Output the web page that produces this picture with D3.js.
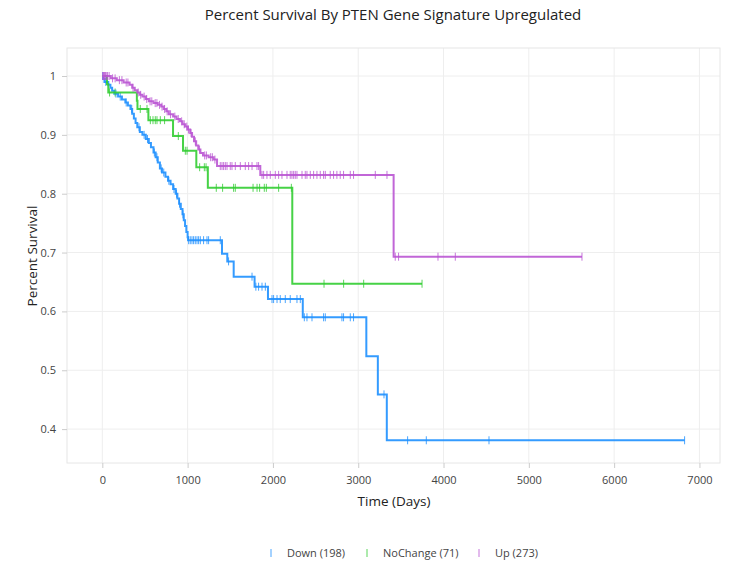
<!DOCTYPE html>
<html><head><meta charset="utf-8">
<script src="https://cdnjs.cloudflare.com/ajax/libs/d3/7.8.5/d3.min.js"></script>
<style>body{margin:0;background:#fff;}svg{display:block;font-family:"Open Sans",sans-serif;}</style>
</head><body><div id="chart"></div>
<script>
const chartTitle = "Percent Survival By PTEN Gene Signature Upregulated";
const xTitle = "Time (Days)";
const yTitle = "Percent Survival";
const xTicks = [0, 1000, 2000, 3000, 4000, 5000, 6000, 7000];
const yTicks = [0.4, 0.5, 0.6, 0.7, 0.8, 0.9, 1];
const groupNames = ["Down (198)", "NoChange (71)", "Up (273)"];
const groupColors = ["#1e90ff", "#32cd32", "#ba55d3"];

// Down
const downTimes = [0,12,25,70,95,115,140,185,230,270,300,330,350,370,390,410,440,470,510,545,570,600,625,650,675,700,740,770,800,830,860,880,900,920,940,955,970,985,1000,1005,1403,1465,1540,1785,1942,2350,3095,3230,3335];
const downSurv  = [1,0.995,0.99,0.985,0.98,0.975,0.97,0.965,0.96,0.955,0.95,0.944,0.936,0.928,0.92,0.913,0.905,0.9,0.893,0.886,0.879,0.87,0.862,0.853,0.843,0.836,0.829,0.822,0.816,0.808,0.8,0.792,0.783,0.774,0.765,0.755,0.745,0.735,0.726,0.721,0.698,0.685,0.659,0.642,0.621,0.59,0.524,0.459,0.381];
const downEnd = 6826;
const downCensor = [5,40,160,210,280,345,430,490,530,610,640,690,720,780,840,870,905,945,1012,1031,1051,1070,1090,1110,1129,1149,1187,1227,1246,1383,1480,1755,1800,1832,1872,1911,1989,2008,2048,2086,2145,2203,2282,2321,2368,2399,2458,2594,2614,2809,2828,2907,2945,3302,3579,3798,4533,6826];

// NoChange
const noChangeTimes = [0,55,70,405,412,540,829,946,1102,1237,2227];
const noChangeSurv  = [1,0.986,0.972,0.958,0.944,0.925,0.898,0.873,0.845,0.81,0.647];
const noChangeEnd = 3748;
const noChangeCensor = [85,150,445,524,563,594,621,641,680,730,891,973,993,1141,1196,1216,1336,1410,1539,1559,1767,1814,1844,1899,1923,2067,2216,2599,2829,3064,3748];

// Up
const upTimes = [0,100,170,250,320,350,380,410,440,470,510,545,600,650,690,720,750,780,830,870,910,940,970,1000,1030,1052,1075,1100,1125,1150,1180,1246,1305,1345,1852,3415];
const upSurv  = [1,0.996,0.993,0.989,0.985,0.98,0.976,0.972,0.968,0.965,0.961,0.957,0.954,0.951,0.948,0.944,0.94,0.935,0.931,0.927,0.923,0.918,0.914,0.909,0.903,0.897,0.889,0.882,0.875,0.869,0.865,0.862,0.858,0.847,0.832,0.693];
const upEnd = 5623;
const upCensor = [5,12,20,28,35,45,60,80,120,150,200,230,280,300,360,420,450,490,520,560,580,620,640,670,700,730,760,800,850,890,930,960,990,1010,1040,1090,1140,1200,1220,1270,1290,1320,1383,1403,1422,1442,1462,1500,1520,1559,1618,1676,1715,1755,1813,1832,1872,1891,1930,1969,2028,2067,2106,2165,2203,2223,2243,2262,2282,2341,2379,2399,2438,2477,2516,2555,2594,2614,2672,2711,2750,2789,2828,2907,2945,3200,3337,3434,3473,3935,4138,5623];

const groups = [
  {times: downTimes, surv: downSurv, end: downEnd, censor: downCensor},
  {times: noChangeTimes, surv: noChangeSurv, end: noChangeEnd, censor: noChangeCensor},
  {times: upTimes, surv: upSurv, end: upEnd, censor: upCensor}
];

const W = 734, H = 563;
const m = {left: 67, right: 14, top: 48, bottom: 100};
const svg = d3.select("#chart").append("svg").attr("width", W).attr("height", H);
const x = d3.scaleLinear().domain([-414, 7241]).range([m.left, W - m.right]);
const y = d3.scaleLinear().domain([0.3424, 1.0476]).range([H - m.bottom, m.top]);

// grid
const g = svg.append("g");
g.selectAll(".vg").data(xTicks).join("line")
  .attr("x1", d => x(d)).attr("x2", d => x(d)).attr("y1", m.top).attr("y2", H - m.bottom)
  .attr("stroke", "#eeeeee").attr("stroke-width", 1);
g.selectAll(".hg").data(yTicks).join("line")
  .attr("y1", d => y(d)).attr("y2", d => y(d)).attr("x1", m.left).attr("x2", W - m.right)
  .attr("stroke", "#eeeeee").attr("stroke-width", 1);
svg.append("rect").attr("x", m.left).attr("y", m.top)
  .attr("width", W - m.right - m.left).attr("height", H - m.bottom - m.top)
  .attr("fill", "none").attr("stroke", "#e6e6e6").attr("stroke-width", 1);

// axes
const xAxis = svg.append("g").attr("transform", `translate(0,${H - m.bottom})`)
  .call(d3.axisBottom(x).tickValues(xTicks).tickSize(5).tickPadding(8).tickFormat(d3.format("d")));
const yAxis = svg.append("g").attr("transform", `translate(${m.left},0)`)
  .call(d3.axisLeft(y).tickValues(yTicks).tickSize(5).tickPadding(6).tickFormat(d => d === 1 ? "1" : d3.format(".1f")(d)));
[xAxis, yAxis].forEach(a => {
  a.select(".domain").remove();
  a.selectAll(".tick line").attr("stroke", "#cccccc");
  a.selectAll(".tick text").attr("fill", "#444").style("font-size", "11px").style("font-family", '"Open Sans",sans-serif');
});

// curves
const line = d3.line().x(d => x(d[0])).y(d => y(d[1])).curve(d3.curveStepAfter);
function survAt(gr, t) {
  let s = gr.surv[0];
  for (let i = 0; i < gr.times.length; i++) if (gr.times[i] <= t) s = gr.surv[i];
  return s;
}
groups.forEach((gr, i) => {
  const pts = gr.times.map((t, k) => [t, gr.surv[k]]);
  pts.push([gr.end, gr.surv[gr.surv.length - 1]]);
  svg.append("path").datum(pts).attr("d", line)
    .attr("fill", "none").attr("stroke", groupColors[i]).attr("stroke-width", 2).attr("opacity", 0.9);
  svg.append("g").selectAll("line").data(gr.censor).join("line")
    .attr("x1", d => x(d)).attr("x2", d => x(d))
    .attr("y1", d => y(survAt(gr, d)) - 4).attr("y2", d => y(survAt(gr, d)) + 4)
    .attr("stroke", groupColors[i]).attr("stroke-width", 1).attr("opacity", 0.8);
});

// titles
svg.append("text").attr("x", 393).attr("y", 20).attr("text-anchor", "middle")
  .style("font-size", "15px").attr("fill", "#222").text(chartTitle);
svg.append("text").attr("x", 394).attr("y", 506).attr("text-anchor", "middle")
  .style("font-size", "13.5px").attr("fill", "#222").text(xTitle);
svg.append("text").attr("transform", "translate(37,256) rotate(-90)").attr("text-anchor", "middle")
  .style("font-size", "13.5px").attr("fill", "#222").text(yTitle);

// legend
const legendX = [271, 367, 479];
const lg = svg.append("g");
groupNames.forEach((n, i) => {
  lg.append("line").attr("x1", legendX[i]).attr("x2", legendX[i]).attr("y1", 549).attr("y2", 557)
    .attr("stroke", groupColors[i]).attr("stroke-width", 1).attr("opacity", 0.8);
  lg.append("text").attr("x", legendX[i] + 16).attr("y", 557).style("font-size", "11px")
    .attr("fill", "#444").text(n);
});
</script></body></html>
